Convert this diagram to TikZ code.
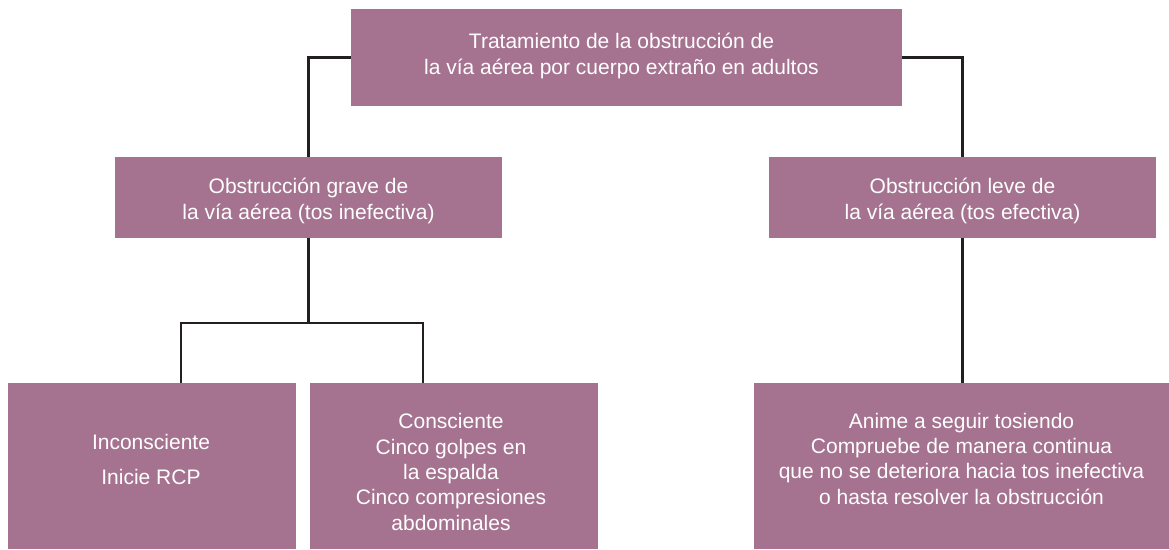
\documentclass[tikz,border=0pt]{standalone}
\usepackage{fontspec}
\setmainfont{Liberation Sans}
\definecolor{boxfill}{HTML}{A57390}
\definecolor{linecol}{HTML}{231F20}
\newcommand\boxtext[3]{\raisebox{#2}[\height][\depth]{\hspace*{#1}\begin{tabular}{@{}c@{}}#3\end{tabular}\hspace*{-#1}}}
\begin{document}
\begin{tikzpicture}[x=1pt,y=-1pt,
  box/.style={rectangle, fill=boxfill, draw=none, inner sep=0pt,
    text=white, font=\fontsize{21}{25.3}\selectfont},
  conn/.style={draw=linecol, line width=2.5pt}]
\useasboundingbox (0,0) rectangle (1169,549);
\node[box, minimum width=551pt, minimum height=97pt] (b1) at (626.5,57.5)
  {\boxtext{-5pt}{1pt}{Tratamiento de la obstrucción de\\la vía aérea por cuerpo extraño en adultos}};
\node[box, minimum width=387pt, minimum height=81pt] (b2) at (308.5,197.5)
  {\boxtext{0pt}{-4pt}{Obstrucción grave de\\la vía aérea (tos inefectiva)}};
\node[box, minimum width=387pt, minimum height=81pt] (b3) at (962.5,197.5)
  {\boxtext{0pt}{-4pt}{Obstrucción leve de\\la vía aérea (tos efectiva)}};
\node[box, minimum width=288pt, minimum height=166pt] (b4) at (152,466)
  {\boxtext{-1pt}{4pt}{Inconsciente\\[10.5pt]Inicie RCP}};
\node[box, minimum width=288pt, minimum height=166pt] (b5) at (454,466)
  {\boxtext{-3pt}{-8.5pt}{Consciente\\Cinco golpes en\\la espalda\\Cinco compresiones\\abdominales}};
\node[box, minimum width=415pt, minimum height=166pt] (b6) at (961.5,466)
  {\boxtext{0pt}{5pt}{Anime a seguir tosiendo\\Compruebe de manera continua\\que no se deteriora hacia tos inefectiva\\o hasta resolver la obstrucción}};
\coordinate (j) at (308.5,323);
\draw[conn] (b1.west) -| (b2.north);
\draw[conn] (b1.east) -| (b3.north);
\draw[conn] (b2.south) -- (j);
\draw[conn] ([xshift=29pt]b4.north) |- (j) -| ([xshift=-31pt]b5.north);
\draw[conn] (b3.south) -- (b3.south |- b6.north);
\end{tikzpicture}
\end{document}
